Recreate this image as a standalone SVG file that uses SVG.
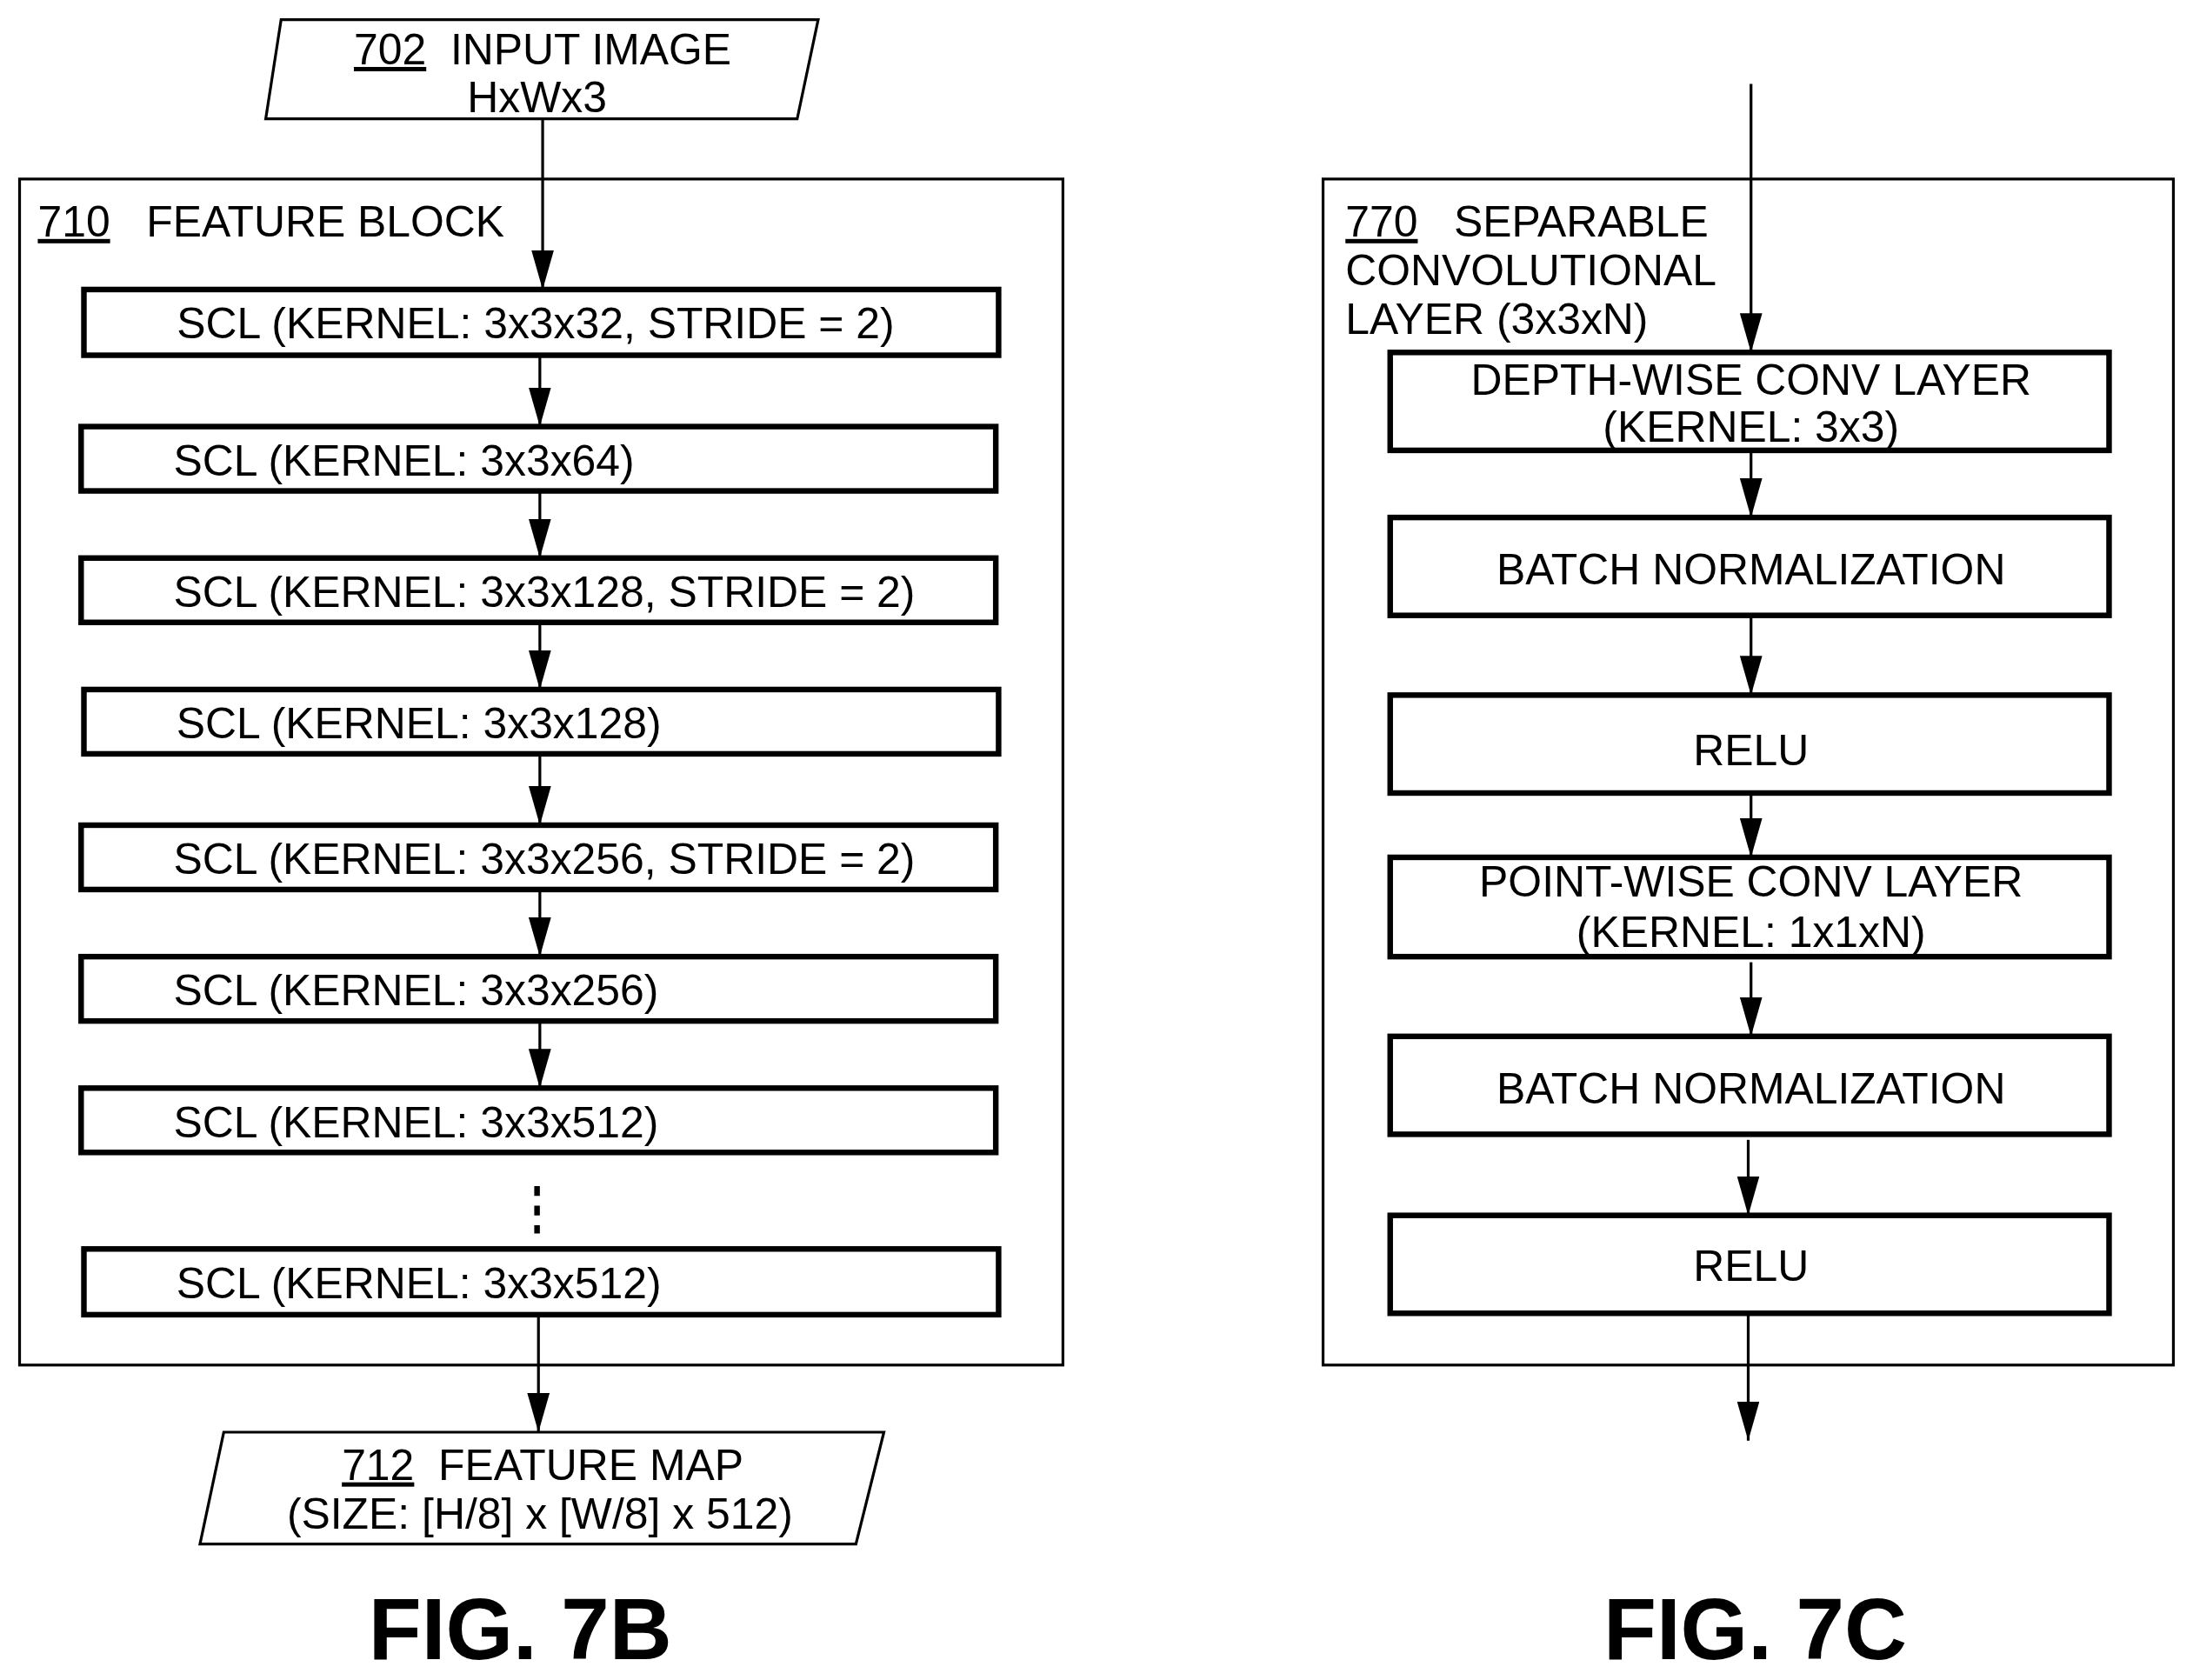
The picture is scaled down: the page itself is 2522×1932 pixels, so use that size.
<svg xmlns="http://www.w3.org/2000/svg" width="2522" height="1932" viewBox="0 0 2522 1932">
<defs>
<marker id="a" markerUnits="userSpaceOnUse" markerWidth="28" markerHeight="16" refX="28" refY="8" orient="auto" viewBox="0 0 28 16"><path d="M0,0 L28,8 L0,16 Z" fill="#000"/></marker>
</defs>
<style>
text{font-family:"Liberation Sans",Arial,sans-serif;font-size:31px;fill:#000;white-space:pre}
.c{text-anchor:middle}
.fig{font-size:62px;font-weight:bold}
.box{fill:#fff;stroke:#000;stroke-width:4}
.frame{fill:none;stroke:#000;stroke-width:2}
.ln{stroke:#000;stroke-width:2;fill:none;marker-end:url(#a)}
</style>
<rect width="2522" height="1932" fill="#fff"/>
<g transform="scale(1.6084)">
<g id="fb"><rect class="frame" x="14" y="128" width="746" height="848"/><text x="27" y="169" xml:space="preserve"><tspan text-decoration="underline">710</tspan>   FEATURE BLOCK</text></g>
<g id="sc"><rect class="frame" x="946" y="128" width="608" height="848"/><text x="962" y="169" xml:space="preserve"><tspan text-decoration="underline">770</tspan>   SEPARABLE</text><text x="962" y="204">CONVOLUTIONAL</text><text x="962" y="239">LAYER (3x3xN)</text></g>
<g id="connectors">
<line class="ln" x1="388" y1="85" x2="388" y2="207"/>
<line class="ln" x1="386" y1="254" x2="386" y2="305"/>
<line class="ln" x1="386" y1="351" x2="386" y2="399"/>
<line class="ln" x1="386" y1="445" x2="386" y2="493"/>
<line class="ln" x1="386" y1="539" x2="386" y2="590"/>
<line class="ln" x1="386" y1="636" x2="386" y2="684"/>
<line class="ln" x1="386" y1="730" x2="386" y2="778"/>
<line x1="384" y1="848" x2="384" y2="882" stroke="#000" stroke-width="4" stroke-dasharray="7,7"/>
<line class="ln" x1="385" y1="940" x2="385" y2="1024"/>
<line class="ln" x1="1252" y1="60" x2="1252" y2="252"/>
<line class="ln" x1="1252" y1="322" x2="1252" y2="370"/>
<line class="ln" x1="1252" y1="440" x2="1252" y2="497"/>
<line class="ln" x1="1252" y1="567" x2="1252" y2="613"/>
<line class="ln" x1="1252" y1="688" x2="1252" y2="741"/>
<line class="ln" x1="1250" y1="815" x2="1250" y2="869"/>
<line class="ln" x1="1250" y1="939" x2="1250" y2="1030"/>
</g>
<g id="in"><polygon points="201,14 585,14 570,85 190,85" fill="#fff" stroke="#000" stroke-width="2"/><text class="c" x="388" y="46" xml:space="preserve"><tspan text-decoration="underline">702</tspan>  INPUT IMAGE</text><text class="c" x="384" y="80">HxWx3</text></g>
<g id="b1"><rect class="box" x="60" y="207" width="654" height="47"/><text class="c" x="383" y="242">SCL (KERNEL: 3x3x32, STRIDE = 2)</text></g>
<g id="b2"><rect class="box" x="58" y="305" width="654" height="46"/><text x="124" y="340">SCL (KERNEL: 3x3x64)</text></g>
<g id="b3"><rect class="box" x="58" y="399" width="654" height="46"/><text x="124" y="434">SCL (KERNEL: 3x3x128, STRIDE = 2)</text></g>
<g id="b4"><rect class="box" x="60" y="493" width="654" height="46"/><text x="126" y="528">SCL (KERNEL: 3x3x128)</text></g>
<g id="b5"><rect class="box" x="58" y="590" width="654" height="46"/><text x="124" y="625">SCL (KERNEL: 3x3x256, STRIDE = 2)</text></g>
<g id="b6"><rect class="box" x="58" y="684" width="654" height="46"/><text x="124" y="719">SCL (KERNEL: 3x3x256)</text></g>
<g id="b7"><rect class="box" x="58" y="778" width="654" height="46"/><text x="124" y="813">SCL (KERNEL: 3x3x512)</text></g>
<g id="b8"><rect class="box" x="60" y="893" width="654" height="47"/><text x="126" y="928">SCL (KERNEL: 3x3x512)</text></g>
<g id="out"><polygon points="160,1024 632,1024 612,1104 143,1104" fill="#fff" stroke="#000" stroke-width="2"/><text class="c" x="388" y="1058" xml:space="preserve"><tspan text-decoration="underline">712</tspan>  FEATURE MAP</text><text class="c" x="386" y="1093">(SIZE: [H/8] x [W/8] x 512)</text></g>
<g id="c1"><rect class="box" x="994" y="252" width="514" height="70"/><text class="c" x="1252" y="282">DEPTH-WISE CONV LAYER</text><text class="c" x="1252" y="316">(KERNEL: 3x3)</text></g>
<g id="c2"><rect class="box" x="994" y="370" width="514" height="70"/><text class="c" x="1252" y="418">BATCH NORMALIZATION</text></g>
<g id="c3"><rect class="box" x="994" y="497" width="514" height="70"/><text class="c" x="1252" y="547">RELU</text></g>
<g id="c4"><rect class="box" x="994" y="613" width="514" height="71"/><text class="c" x="1252" y="641">POINT-WISE CONV LAYER</text><text class="c" x="1252" y="677">(KERNEL: 1x1xN)</text></g>
<g id="c5"><rect class="box" x="994" y="741" width="514" height="70"/><text class="c" x="1252" y="789">BATCH NORMALIZATION</text></g>
<g id="c6"><rect class="box" x="994" y="869" width="514" height="70"/><text class="c" x="1252" y="916">RELU</text></g>
<text class="c fig" x="372" y="1186">FIG. 7B</text>
<text class="c fig" x="1255" y="1186">FIG. 7C</text>
</g>
</svg>
